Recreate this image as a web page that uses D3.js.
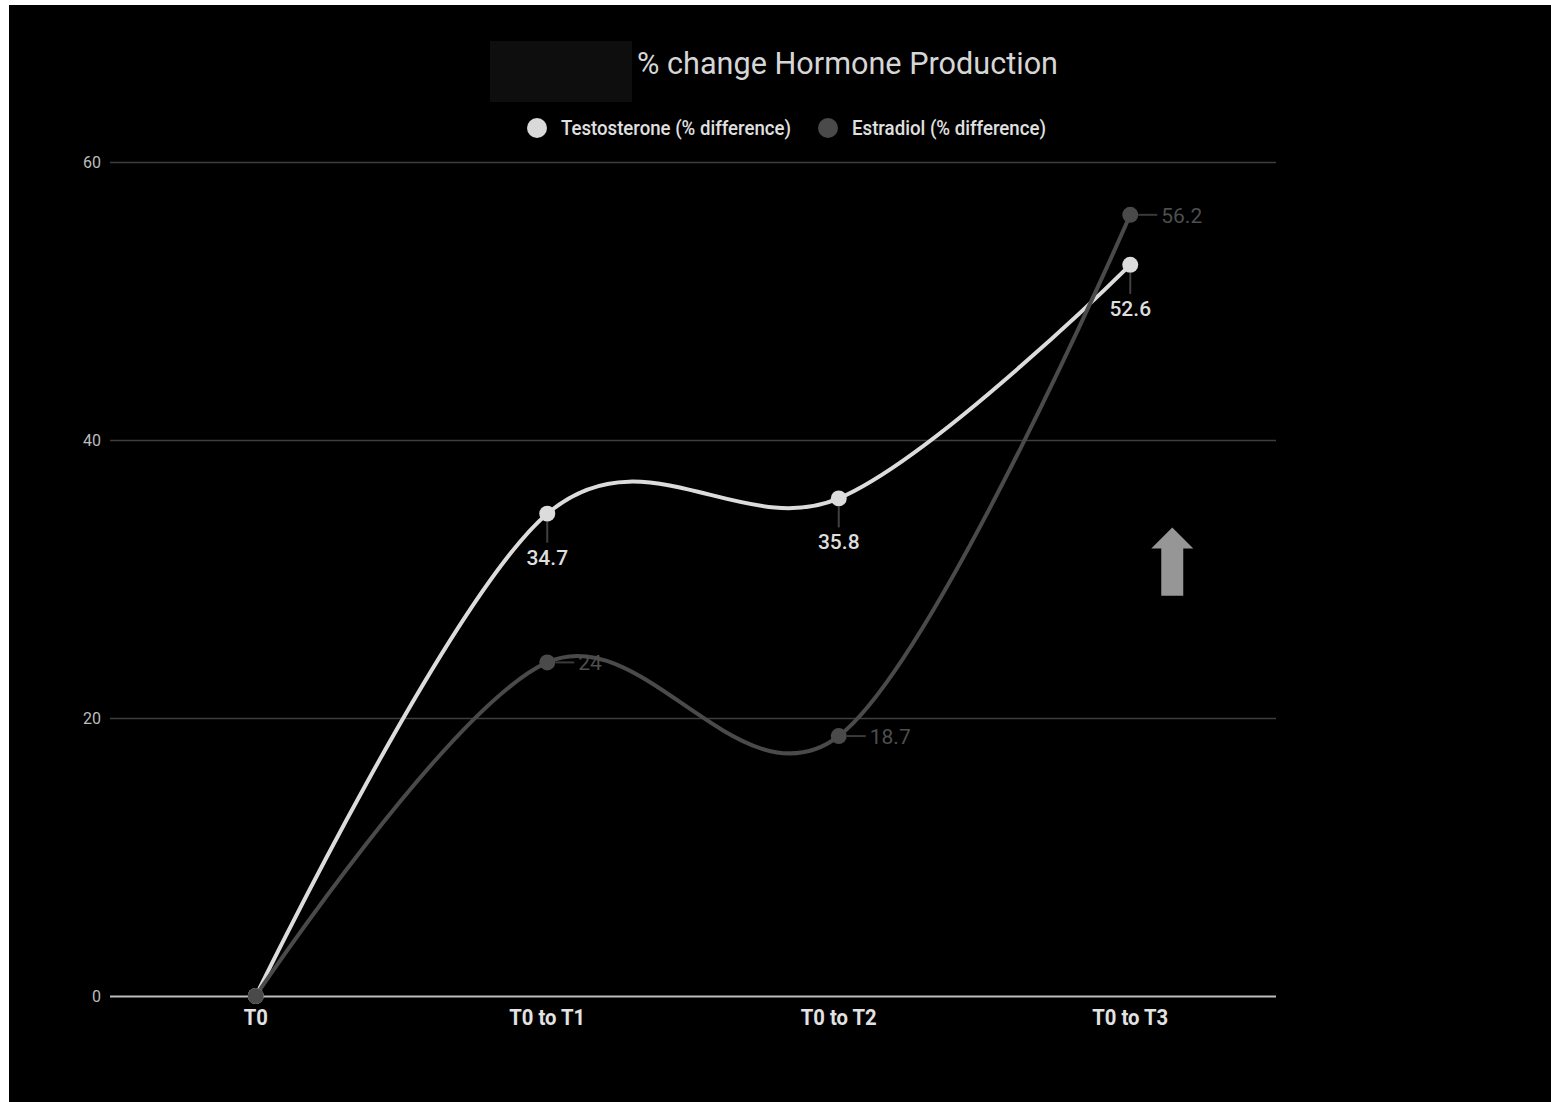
<!DOCTYPE html>
<html>
<head>
<meta charset="utf-8">
<script src="https://cdn.jsdelivr.net/npm/d3@7"></script>
<style>
  html, body { margin: 0; padding: 0; background: #ffffff; }
  svg { display: block; font-family: Roboto, "Noto Sans", sans-serif; }
</style>
</head>
<body>
<svg id="chart" width="1551" height="1102"></svg>
<script>
// Chart data
const categories = ["T0", "T0 to T1", "T0 to T2", "T0 to T3"];
const testosterone = [0, 34.7, 35.8, 52.6];
const estradiol = [0, 24, 18.7, 56.2];
const yTicks = [0, 20, 40, 60];
const seriesNames = ["Testosterone (% difference)", "Estradiol (% difference)"];
const chartTitle = "% change Hormone Production";

const W = 1551, H = 1102;
const svg = d3.select("#chart");

// Dark panel inside a thin white frame
svg.append("rect").attr("x", 9).attr("y", 5).attr("width", W - 9).attr("height", H - 5).attr("fill", "#000");

const plot = { left: 110, right: 1276, top: 162, bottom: 996 };

const x = d3.scaleBand().domain(categories).range([plot.left, plot.right]);
const xc = d => x(d) + x.bandwidth() / 2;
const y = d3.scaleLinear().domain([0, 60]).range([plot.bottom, plot.top]);

// Title block
svg.append("rect").attr("x", 490).attr("y", 41).attr("width", 142).attr("height", 61).attr("fill", "#0e0e0e");
svg.append("text").attr("x", 637).attr("y", 74)
  .attr("font-size", 31).attr("fill", "#d6d6d6")
  .attr("textLength", 421).attr("lengthAdjust", "spacingAndGlyphs")
  .text(chartTitle);

// Legend
const legend = [
  { name: seriesNames[0], color: "#d9d9d9", cx: 537, tx: 561, len: 230 },
  { name: seriesNames[1], color: "#4a4a4a", cx: 828, tx: 852, len: 194 }
];
const lg = svg.append("g");
legend.forEach(l => {
  lg.append("circle").attr("cx", l.cx).attr("cy", 128).attr("r", 10).attr("fill", l.color);
  lg.append("text").attr("x", l.tx).attr("y", 135)
    .attr("font-size", 20).attr("font-weight", 500).attr("fill", "#e0e0e0")
    .attr("textLength", l.len).attr("lengthAdjust", "spacingAndGlyphs")
    .text(l.name);
});

// Gridlines and y-axis labels
const yAxis = d3.axisLeft(y).tickValues(yTicks).tickSize(-(plot.right - plot.left)).tickPadding(9).tickFormat(d3.format("d"));
const gy = svg.append("g").attr("transform", `translate(${plot.left},0)`).call(yAxis);
gy.select(".domain").remove();
gy.selectAll(".tick line")
  .attr("stroke", d => d === 0 ? "#bdbdbd" : "#3e3e3e")
  .attr("stroke-width", d => d === 0 ? 2 : 1.5);
gy.selectAll(".tick text")
  .attr("font-size", 16).attr("fill", "#bcbcbc").attr("font-family", "Roboto, sans-serif");

// X-axis labels
const xAxis = d3.axisBottom(x).tickSize(0).tickPadding(13);
const gx = svg.append("g").attr("transform", `translate(0,${plot.bottom})`).call(xAxis);
gx.select(".domain").remove();
gx.selectAll(".tick text")
  .attr("font-size", 22).attr("font-weight", "bold").attr("fill", "#e2e2e2")
  .attr("font-family", "Roboto, sans-serif")
  .each(function() {
    const natural = this.getComputedTextLength();
    d3.select(this).attr("textLength", natural * 0.92).attr("lengthAdjust", "spacingAndGlyphs");
  });

// Smooth lines
const line = d3.line()
  .x((d, i) => xc(categories[i]))
  .y(d => y(d))
  .curve(d3.curveCardinal.tension(0));

const series = [
  { values: testosterone, color: "#dcdcdc", label: "#dedede", pos: "below" },
  { values: estradiol, color: "#4a4a4a", label: "#4e4e4e", pos: "right" }
];

svg.append("path").datum(testosterone).attr("d", line)
  .attr("fill", "none").attr("stroke", "#dcdcdc").attr("stroke-width", 4);
svg.append("path").datum(estradiol).attr("d", line)
  .attr("fill", "none").attr("stroke", "#4a4a4a").attr("stroke-width", 4);

series.forEach(s => {
  svg.append("g").selectAll("circle").data(s.values).join("circle")
    .attr("cx", (d, i) => xc(categories[i]))
    .attr("cy", d => y(d))
    .attr("r", 8)
    .attr("fill", s.color);
});

// Value annotations (non-zero points)
series.forEach(s => {
  const g = svg.append("g");
  s.values.forEach((v, i) => {
    if (v === 0) return;
    const px = xc(categories[i]), py = y(v);
    if (s.pos === "below") {
      g.append("line").attr("x1", px).attr("x2", px).attr("y1", py + 8).attr("y2", py + 29)
        .attr("stroke", "#404040").attr("stroke-width", 2);
      g.append("text").attr("x", px).attr("y", py + 51).attr("text-anchor", "middle")
        .attr("font-size", 21).attr("font-weight", 500).attr("fill", s.label).text(v);
    } else {
      g.append("line").attr("x1", px + 8).attr("x2", px + 27).attr("y1", py).attr("y2", py)
        .attr("stroke", "#3a3a3a").attr("stroke-width", 2);
      g.append("text").attr("x", px + 31).attr("y", py + 8)
        .attr("font-size", 21).attr("fill", s.label).text(v);
    }
  });
});

// Upward arrow beside the final category
const ax = xc(categories[3]) + 42;
const tipY = y(33.7), neckY = y(32.2), baseY = y(28.8);
svg.append("path")
  .attr("d", `M${ax},${tipY} L${ax + 21},${neckY} L${ax + 11},${neckY} L${ax + 11},${baseY} L${ax - 11},${baseY} L${ax - 11},${neckY} L${ax - 21},${neckY} Z`)
  .attr("fill", "#969696");
</script>
</body>
</html>
